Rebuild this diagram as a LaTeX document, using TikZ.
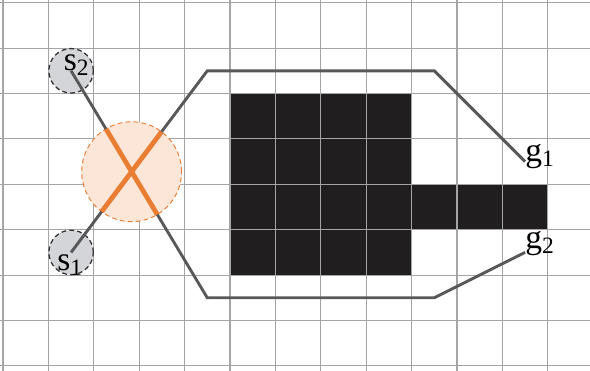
\documentclass[tikz,border=0pt]{standalone}
\usepackage{fontspec}
\setmainfont{Liberation Serif}
\usepackage{tikz}
\usetikzlibrary{positioning, calc}

\definecolor{gridgray}{RGB}{165,165,168}
\definecolor{pathgray}{RGB}{88,88,90}
\definecolor{crossorange}{RGB}{234,125,52}
\definecolor{zonefill}{RGB}{251,230,216}
\definecolor{startfill}{RGB}{212,213,216}
\definecolor{blockfill}{RGB}{32,30,30}

\begin{document}
\begin{tikzpicture}[
  font=\fontsize{21}{23}\selectfont,
  gridline/.style={draw=gridgray, line width=0.65pt},
  route/.style={draw=pathgray, line width=1.8pt},
  startpt/.style={
    circle,
    draw=black!80,
    dash pattern=on 3pt off 2pt,
    fill=startfill,
    minimum size=0.98cm,
    inner sep=0pt,
    line width=0.8pt,
  },
  zone/.style={
    circle,
    draw=crossorange,
    dash pattern=on 3pt off 2pt,
    fill=zonefill,
    minimum size=2.2cm,
    inner sep=0pt,
    line width=0.6pt,
  },
  lbl/.style={inner sep=0pt},
]
\useasboundingbox (-0.066,-0.11) rectangle (12.93,8.06);
\fill[white] (-0.066,-0.11) rectangle (12.93,8.06);

% --- Obstacle ---
\fill[blockfill] (5,2) rectangle (9,6);
\fill[blockfill] (9,3) rectangle (12,4);

% --- Grid ---
\draw[gridline] (-0.066,-0.11) grid (12.93,8.06);

% --- Corners of the two routes ---
\coordinate (Top1) at (4.5,6.5);
\coordinate (Top2) at (9.5,6.5);
\coordinate (Bot1) at (4.5,1.5);
\coordinate (Bot2) at (9.5,1.5);
\coordinate (g1) at (11.5,4.5);
\coordinate (g2) at (11.5,2.5);
\coordinate (StartA) at (1.5,2.5);
\coordinate (StartB) at (1.5,6.5);
\coordinate (Cross) at (intersection of StartA--Top1 and StartB--Bot1);

% --- Conflict zone and start points ---
\node[zone] (Zone) at (Cross) {};
\node[startpt] (s1) at (StartA) {};
\node[startpt] (s2) at (StartB) {};

% --- Routes ---
\draw[route] (s1.center) -- (Top1) -- (Top2) -- (g1);
\draw[route] (s2.center) -- (Bot1) -- (Bot2) -- (g2);

% Conflict part of the routes
\begin{scope}
  \clip (Cross) circle[radius=1.1cm];
  \draw[route, draw=crossorange, line width=3pt] (s1.center) -- (Top1);
  \draw[route, draw=crossorange, line width=3pt] (s2.center) -- (Bot1);
\end{scope}

% --- Labels ---
\node[lbl, anchor=base] (s2lbl) at ($(s2.center)+(0.12,0)$) {s\textsubscript{2}};
\node[lbl, anchor=base] (s1lbl) at ($(s1.center)+(-0.02,-0.4)$) {s\textsubscript{1}};
\node[lbl, anchor=base west] (g1lbl) at (g1) {g\textsubscript{1}};
\node[lbl, anchor=base west] (g2lbl) at ($(g2)+(0,0.08)$) {g\textsubscript{2}};

\end{tikzpicture}
\end{document}
